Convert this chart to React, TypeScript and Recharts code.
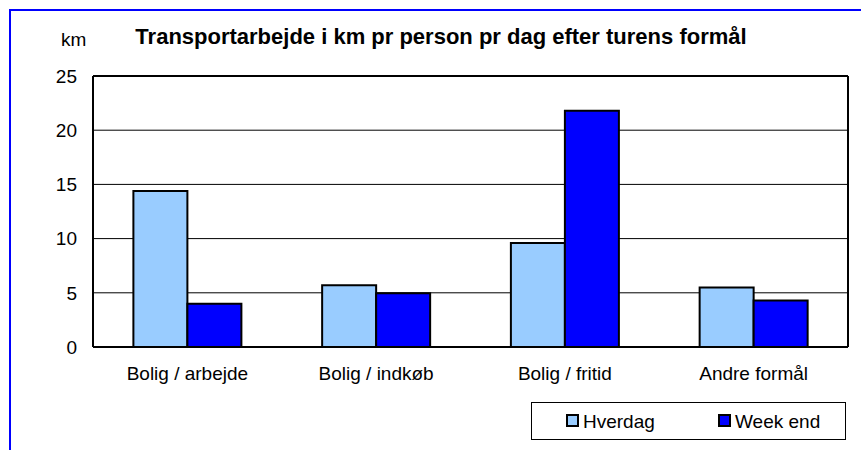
import React from "react";
import {
  Bar,
  BarChart,
  CartesianGrid,
  Legend,
  ReferenceLine,
  XAxis,
  YAxis,
} from "recharts";

const categories = ["Bolig / arbejde", "Bolig / indkøb", "Bolig / fritid", "Andre formål"];
const hverdag = [14.4, 5.7, 9.6, 5.5];
const weekEnd = [4.0, 4.95, 21.8, 4.3];
const yTicks = [0, 5, 10, 15, 20, 25];
const seriesNames = ["Hverdag", "Week end"];
const seriesColors = ["#99CCFF", "#0000FF"];

const data = categories.map((name, i) => ({
  name,
  hverdag: hverdag[i],
  weekEnd: weekEnd[i],
}));

const FONT = "'Liberation Sans', Arial, sans-serif";

const LegendBox = () => (
  <div
    style={{
      position: "relative",
      width: 315,
      height: 38,
      boxSizing: "border-box",
      border: "1px solid #000",
      background: "#fff",
      fontFamily: FONT,
      fontSize: 19,
      color: "#000",
    }}
  >
    {seriesNames.map((name, i) => {
      const left = i === 0 ? 34 : 186;
      return (
        <React.Fragment key={name}>
          <div
            style={{
              position: "absolute",
              left,
              top: 11,
              width: 13,
              height: 13,
              boxSizing: "border-box",
              border: "2px solid #000",
              background: seriesColors[i],
            }}
          />
          <div
            style={{
              position: "absolute",
              left: left + 17,
              top: 8,
              lineHeight: "normal",
              whiteSpace: "nowrap",
            }}
          >
            {name}
          </div>
        </React.Fragment>
      );
    })}
  </div>
);

export default function App() {
  return (
    <div
      style={{
        position: "absolute",
        left: 0,
        top: 0,
        width: 861,
        height: 450,
        overflow: "hidden",
        background: "#fff",
        fontFamily: FONT,
      }}
    >
      <BarChart
        width={861}
        height={450}
        data={data}
        margin={{ top: 76, right: 12, bottom: 43, left: 0 }}
        barCategoryGap="21.4%"
        barGap={0}
      >
        <CartesianGrid
          yAxisId="left"
          horizontal
          vertical={false}
          stroke="#000"
          strokeWidth={1}
          horizontalValues={yTicks}
        />
        <XAxis
          dataKey="name"
          height={60}
          tickSize={0}
          tickMargin={20}
          axisLine={{ stroke: "#000", strokeWidth: 2 }}
          tick={{ fill: "#000", fontSize: 19, fontFamily: FONT }}
          interval={0}
        />
        <YAxis
          yAxisId="left"
          width={93}
          domain={[0, 25]}
          ticks={yTicks}
          tickSize={0}
          tickMargin={16}
          axisLine={{ stroke: "#000", strokeWidth: 2 }}
          tick={{ fill: "#000", fontSize: 19, fontFamily: FONT }}
        />
        <YAxis
          yAxisId="right"
          orientation="right"
          width={1}
          domain={[0, 25]}
          tick={false}
          tickLine={false}
          axisLine={{ stroke: "#000", strokeWidth: 2 }}
        />
        <ReferenceLine yAxisId="left" y={25} stroke="#000" strokeWidth={2} />
        <Legend
          layout="horizontal"
          verticalAlign="middle"
          align="center"
          wrapperStyle={{ left: 531, top: 402, width: 315, height: 38, bottom: "auto", right: "auto" }}
          content={() => <LegendBox />}
        />
        <Bar
          yAxisId="left"
          dataKey="hverdag"
          name={seriesNames[0]}
          fill={seriesColors[0]}
          stroke="#000"
          strokeWidth={2}
          isAnimationActive={false}
        />
        <Bar
          yAxisId="left"
          dataKey="weekEnd"
          name={seriesNames[1]}
          fill={seriesColors[1]}
          stroke="#000"
          strokeWidth={2}
          isAnimationActive={false}
        />
      </BarChart>
      <svg
        width={861}
        height={450}
        style={{ position: "absolute", left: 0, top: 0, pointerEvents: "none" }}
      >
        <text
          x={441}
          y={44}
          textAnchor="middle"
          fontFamily={FONT}
          fontSize={22}
          fontWeight="bold"
          fill="#000"
        >
          Transportarbejde i km pr person pr dag efter turens formål
        </text>
        <text x={61} y={46} fontFamily={FONT} fontSize={19} fill="#000">
          km
        </text>
      </svg>
      <div
        style={{
          position: "absolute",
          left: 9,
          top: 9,
          right: 0,
          bottom: 0,
          borderTop: "2px solid #0000FF",
          borderLeft: "2px solid #0000FF",
          pointerEvents: "none",
        }}
      />
    </div>
  );
}
